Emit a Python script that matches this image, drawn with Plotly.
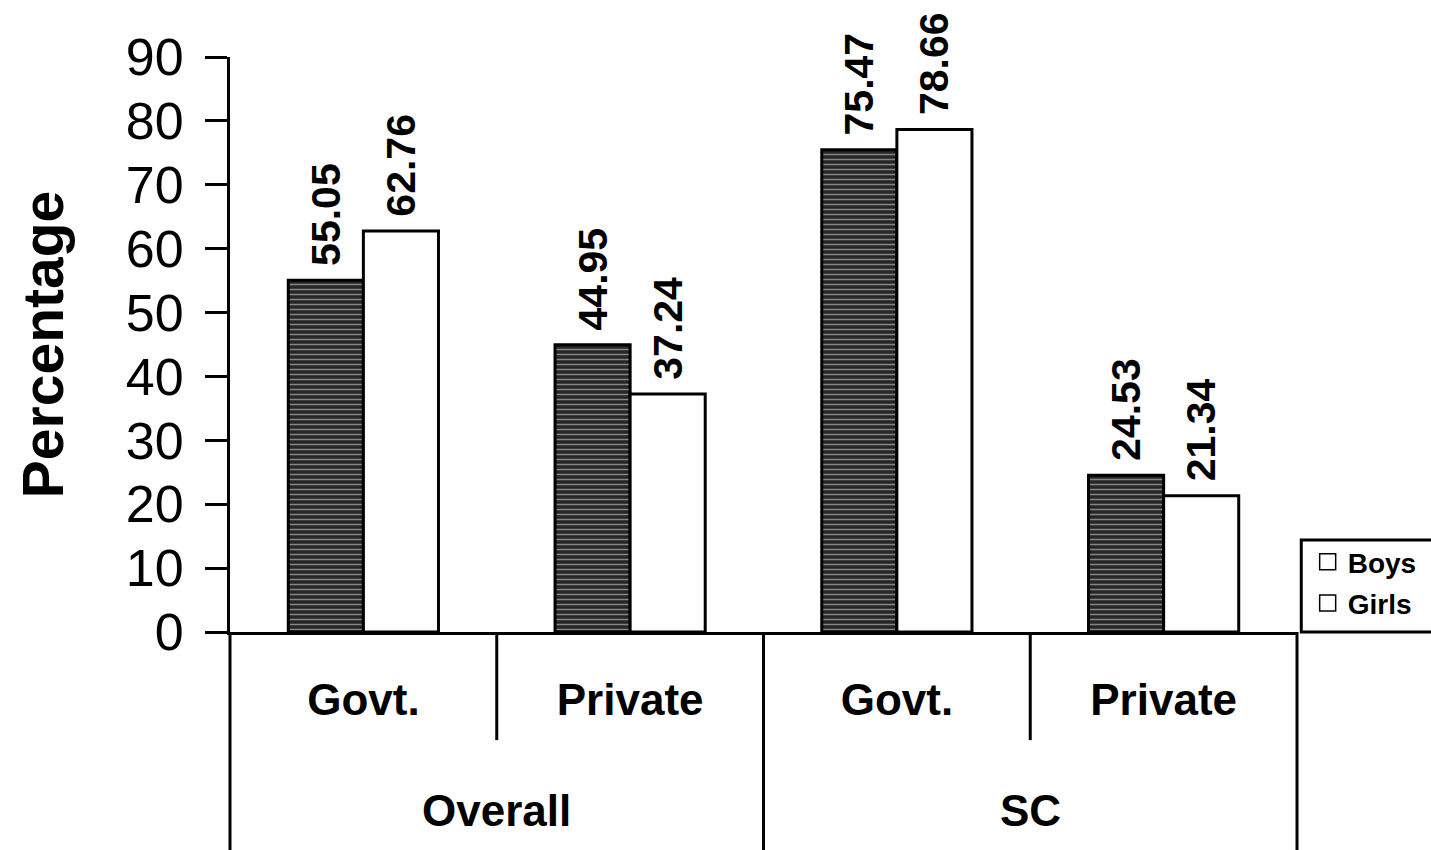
import plotly.graph_objects as go

# Enrolment share by school type, overall and for SC children
groups = ["Overall", "Overall", "SC", "SC"]
schools = ["Govt.", "Private", "Govt.", "Private"]
boys = [55.05, 44.95, 75.47, 24.53]
girls = [62.76, 37.24, 78.66, 21.34]
y_ticks = [0, 10, 20, 30, 40, 50, 60, 70, 80, 90]
legend_names = ["Boys", "Girls"]

FONT = "Liberation Sans, Arial, Helvetica, sans-serif"
pos = list(range(len(schools)))
value_font = dict(family=FONT, size=41, color="black", weight="bold")

fig = go.Figure()

fig.add_trace(go.Bar(
    name="Boys", x=pos, y=boys, showlegend=False,
    marker=dict(
        color="#202020",
        line=dict(color="black", width=3),
        pattern=dict(shape="-", fgcolor="#e6e6e6", bgcolor="#262626",
                     size=5, solidity=0.3),
    ),
    texttemplate="\u00a0%{y:.2f}", textposition="outside", textangle=-90,
    constraintext="none", cliponaxis=False, textfont=value_font,
))
fig.add_trace(go.Bar(
    name="Girls", x=pos, y=girls, showlegend=False,
    marker=dict(color="white", line=dict(color="black", width=3)),
    texttemplate="\u00a0%{y:.2f}", textposition="outside", textangle=-90,
    constraintext="none", cliponaxis=False, textfont=value_font,
))

# Legend keys drawn as open squares
for nm in legend_names:
    fig.add_trace(go.Scatter(
        name=nm, x=[pos[0]], y=[None], mode="markers", legendgroup=nm,
        marker=dict(symbol="square-open", size=21, color="black",
                    line=dict(width=1.5, color="black")),
    ))

# Category table below the axis: short rules between school types,
# full-height rules around each group, group names on the second row
shapes = []
annotations = []
n = len(schools)
for i in range(n + 1):
    group_edge = i == 0 or i == n or groups[i] != groups[i - 1]
    shapes.append(dict(
        type="line", xref="paper", yref="paper", x0=i / n, x1=i / n,
        y0=0, y1=-0.38 if group_edge else -0.188,
        line=dict(color="black", width=3),
    ))
for g in dict.fromkeys(groups):
    idx = [i for i, v in enumerate(groups) if v == g]
    annotations.append(dict(
        text=g, x=sum(idx) / len(idx), y=-0.31, xref="x", yref="paper",
        xanchor="center", yanchor="middle", showarrow=False,
        font=dict(family=FONT, size=44, color="black", weight="bold"),
    ))

# Legend frame, running off the right edge
shapes.append(dict(
    type="rect", xref="paper", yref="paper", x0=1.004, x1=1.2, y0=0, y1=0.16,
    line=dict(color="black", width=3), fillcolor="white", layer="below",
))

fig.update_layout(
    width=1431, height=850,
    margin=dict(l=230, r=134, t=57, b=218, autoexpand=False),
    paper_bgcolor="white", plot_bgcolor="white",
    font=dict(family=FONT, color="black"),
    barmode="group", bargap=0.437, bargroupgap=0,
    shapes=shapes, annotations=annotations,
    legend=dict(
        x=1.01, y=0.007, xanchor="left", yanchor="bottom",
        borderwidth=0, bgcolor="rgba(0,0,0,0)",
        font=dict(family=FONT, size=28, color="black", weight="bold"),
        itemwidth=30, tracegroupgap=2,
    ),
    yaxis=dict(
        range=[0, 90], tickvals=y_ticks, showgrid=False, zeroline=False,
        showline=True, linecolor="black", linewidth=3,
        ticks="outside", ticklen=22, tickwidth=3, tickcolor="black",
        tickfont=dict(family=FONT, size=52, color="black"),
        ticklabelstandoff=11,
        title=dict(text="Percentage", standoff=44,
                   font=dict(family=FONT, size=57, color="black", weight="bold")),
    ),
    xaxis=dict(
        range=[-0.5, n - 0.5], tickvals=pos, ticktext=schools,
        showgrid=False, zeroline=False,
        showline=True, linecolor="black", linewidth=3,
        ticks="", ticklabelstandoff=27,
        tickfont=dict(family=FONT, size=44, color="black", weight="bold"),
    ),
)

fig.write_html("out.html")
